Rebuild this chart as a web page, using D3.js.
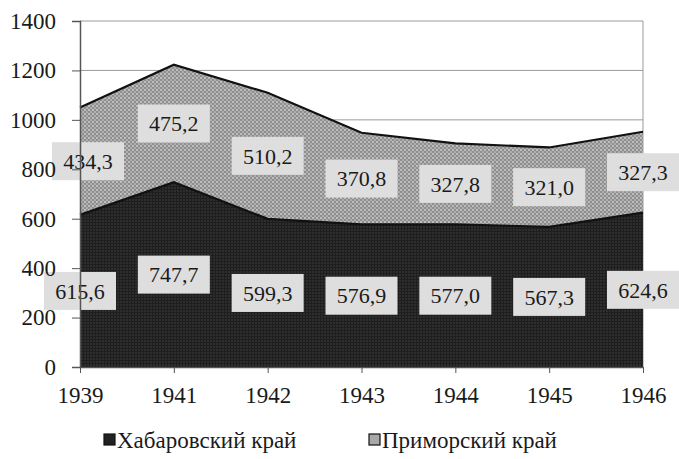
<!DOCTYPE html>
<html>
  <head>
    <meta charset="utf-8">
    <title>Хабаровский и Приморский край</title>
    <script src="https://d3js.org/d3.v7.min.js"></script>
    <style>
      body { margin: 0; background: #fff; }
    </style>
  </head>
  <body>
    <div id="chart"></div>
    <script>
      // data
      var years = ["1939", "1941", "1942", "1943", "1944", "1945", "1946"];
      var khabarovsk = [615.6, 747.7, 599.3, 576.9, 577.0, 567.3, 624.6];
      var primorsky = [434.3, 475.2, 510.2, 370.8, 327.8, 321.0, 327.3];
      var seriesNames = ["Хабаровский край", "Приморский край"];
      var yTicks = [0, 200, 400, 600, 800, 1000, 1200, 1400];

      var FONT = '"Liberation Serif", "Times New Roman", "DejaVu Serif", serif';
      var W = 679, H = 459;
      var margin = {top: 21, right: 36, bottom: 92, left: 80};
      var width = W - margin.left - margin.right,
          height = H - margin.top - margin.bottom;

      var svg = d3.select("#chart").append("svg")
        .attr("width", W)
        .attr("height", H);

      // textures
      var defs = svg.append("defs");
      var pd = defs.append("pattern").attr("id", "dark")
        .attr("patternUnits", "userSpaceOnUse").attr("width", 3).attr("height", 3);
      pd.append("rect").attr("width", 3).attr("height", 3).attr("fill", "#2e2e2e");
      pd.append("rect").attr("width", 3).attr("height", 1).attr("fill", "#1e1e1e");
      pd.append("rect").attr("width", 1).attr("height", 3).attr("fill", "#1e1e1e");

      var pg = defs.append("pattern").attr("id", "dots")
        .attr("patternUnits", "userSpaceOnUse").attr("width", 4).attr("height", 4);
      pg.append("rect").attr("width", 4).attr("height", 4).attr("fill", "#8e8e8e");
      pg.append("circle").attr("cx", 1).attr("cy", 1).attr("r", 1.1).attr("fill", "#c4c4c4");
      pg.append("circle").attr("cx", 3).attr("cy", 3).attr("r", 1.1).attr("fill", "#b4b4b4");

      var g = svg.append("g")
        .attr("transform", "translate(" + margin.left + "," + margin.top + ")");

      var x = d3.scalePoint().domain(years).range([0, width]);
      var y = d3.scaleLinear().domain([0, 1400]).range([height, 0]);

      // grid
      g.append("g").selectAll("line").data(yTicks).enter().append("line")
        .attr("x1", 0).attr("x2", width)
        .attr("y1", function(d) { return y(d); })
        .attr("y2", function(d) { return y(d); })
        .attr("stroke", "#9a9a9a").attr("stroke-width", 1);
      g.append("line").attr("x1", width).attr("x2", width)
        .attr("y1", 0).attr("y2", height)
        .attr("stroke", "#9a9a9a");

      var table = years.map(function(yr, i) {
        return {year: yr, k: khabarovsk[i], p: primorsky[i]};
      });
      var stack = d3.stack().keys(["k", "p"])(table);

      var area = d3.area()
        .x(function(d) { return x(d.data.year); })
        .y0(function(d) { return y(d[0]); })
        .y1(function(d) { return y(d[1]); });
      var topLine = d3.line()
        .x(function(d) { return x(d.data.year); })
        .y(function(d) { return y(d[1]); });

      var fills = ["url(#dark)", "url(#dots)"];
      stack.forEach(function(s, i) {
        g.append("path").datum(s).attr("d", area).attr("fill", fills[i]);
      });
      stack.forEach(function(s) {
        g.append("path").datum(s).attr("d", topLine)
          .attr("fill", "none").attr("stroke", "#111").attr("stroke-width", 2.2);
      });

      // value labels (upper 1939 label sits right of the "800" tick text)
      var fmt = function(v) { return v.toFixed(1).replace(".", ","); };
      stack.forEach(function(s, k) {
        var lab = g.append("g").selectAll("g").data(s).enter().append("g")
          .attr("transform", function(d, i) {
            var dx = (k === 1 && i === 0) ? 8 : 0;
            return "translate(" + (x(d.data.year) + dx) + "," + y((d[0] + d[1]) / 2) + ")";
          });
        lab.append("rect")
          .attr("x", -36).attr("y", -19).attr("width", 72).attr("height", 38)
          .attr("fill", "#dedede");
        lab.append("text")
          .attr("text-anchor", "middle").attr("dy", "0.35em")
          .style("font-family", FONT).style("font-size", "22px").attr("fill", "#1a1a1a")
          .text(function(d) { return fmt(d[1] - d[0]); });
      });

      // axes
      var yAxis = g.append("g").call(d3.axisLeft(y).tickValues(yTicks).tickSize(8).tickPadding(16).tickFormat(d3.format("d")));
      yAxis.select(".domain").attr("stroke", "#555").attr("stroke-width", 1.5);
      yAxis.selectAll(".tick line").attr("stroke", "#555");
      yAxis.selectAll("text").style("font-family", FONT).style("font-size", "23px").attr("fill", "#1a1a1a");

      var xAxis = g.append("g").attr("transform", "translate(0," + height + ")")
        .call(d3.axisBottom(x).tickSize(6).tickPadding(14).tickSizeOuter(0));
      xAxis.select(".domain").attr("stroke", "#555").attr("stroke-width", 1.5);
      xAxis.selectAll(".tick line").attr("stroke", "#555");
      xAxis.selectAll("text").style("font-family", FONT).style("font-size", "23px").attr("fill", "#1a1a1a");

      // legend
      var legend = svg.append("g").attr("transform", "translate(0,440)");
      var legX = [104, 369];
      var legFill = ["#222", "#a8a8a8"];
      seriesNames.forEach(function(name, i) {
        var lg = legend.append("g").attr("transform", "translate(" + legX[i] + ",0)");
        lg.append("rect").attr("x", 0).attr("y", -6).attr("width", 11).attr("height", 11)
          .attr("fill", legFill[i]).attr("stroke", "#111").attr("stroke-width", 1.2);
        lg.append("text").attr("x", 13).attr("dy", "0.35em")
          .style("font-family", FONT).style("font-size", "23px").attr("fill", "#1a1a1a")
          .text(name);
      });
    </script>
  </body>
</html>
